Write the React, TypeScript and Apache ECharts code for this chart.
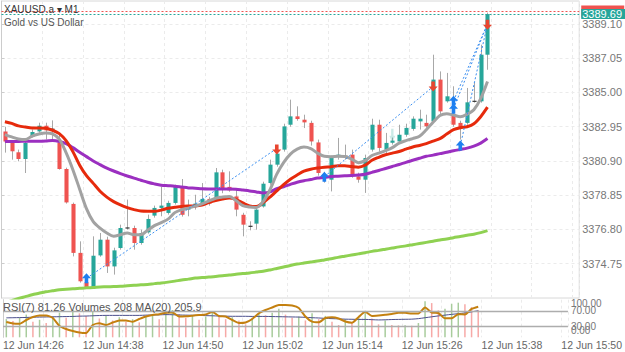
import React, { useEffect, useRef } from 'react';
import * as echarts from 'echarts';

// ---------- data ----------
const opens = [
  3382.67, 3381.98, 3381.42, 3381.02, 3382.37, 3382.67, 3383.01, 3382.80, 3381.99, 3380.42,
  3378.33, 3375.40, 3373.64, 3373.36, 3375.25, 3376.19, 3374.59, 3375.69, 3376.89, 3376.89,
  3375.99, 3376.63, 3377.63, 3378.09, 3377.79, 3378.39, 3379.35, 3377.99, 3378.23, 3378.35,
  3378.63, 3378.63, 3380.22, 3379.35, 3378.78, 3377.68, 3376.99, 3377.15, 3378.18, 3379.58,
  3380.68, 3381.58, 3383.07, 3383.57, 3383.37, 3383.18, 3382.01, 3380.10, 3379.78, 3381.18,
  3381.18, 3381.28, 3379.98, 3379.78, 3381.58, 3383.07, 3381.58, 3381.99, 3382.07, 3382.47,
  3382.82, 3383.27, 3383.18, 3383.27, 3385.77, 3384.47, 3383.67, 3383.18, 3383.18, 3384.47,
  3384.47, 3387.26,
];
const closes = [
  3382.07, 3381.48, 3381.02, 3381.98, 3382.64, 3383.01, 3382.73, 3382.78, 3380.42, 3378.42,
  3375.40, 3373.70, 3373.36, 3375.23, 3376.19, 3374.59, 3375.55, 3376.89, 3376.89, 3375.99,
  3376.59, 3377.43, 3378.09, 3378.23, 3378.39, 3379.35, 3377.68, 3378.23, 3378.35, 3378.63,
  3378.35, 3380.22, 3379.22, 3379.14, 3377.99, 3377.09, 3376.99, 3377.99, 3379.54, 3380.68,
  3381.34, 3382.97, 3383.57, 3383.41, 3383.21, 3382.07, 3380.18, 3379.95, 3381.08, 3381.28,
  3381.18, 3380.08, 3379.78, 3381.08, 3383.07, 3381.68, 3381.98, 3382.12, 3382.47, 3382.88,
  3383.43, 3383.43, 3382.97, 3385.77, 3383.87, 3384.77, 3383.07, 3382.88, 3384.41, 3384.47,
  3387.26, 3389.69,
];
const lows = [
  3381.40, 3380.98, 3380.88, 3380.18, 3382.30, 3382.59, 3382.18, 3382.18, 3380.38, 3378.35,
  3375.19, 3373.62, 3373.32, 3373.32, 3375.17, 3374.20, 3374.10, 3375.59, 3376.79, 3375.59,
  3375.89, 3376.55, 3377.51, 3377.59, 3377.69, 3378.29, 3377.57, 3377.59, 3377.99, 3378.29,
  3378.23, 3378.52, 3378.97, 3379.06, 3377.59, 3376.39, 3376.75, 3376.79, 3378.11, 3379.48,
  3380.56, 3381.46, 3382.95, 3383.31, 3382.87, 3381.82, 3380.02, 3379.60, 3379.08, 3380.98,
  3380.98, 3379.90, 3379.60, 3378.99, 3381.46, 3381.46, 3381.28, 3381.88, 3381.99, 3382.35,
  3382.71, 3382.78, 3382.89, 3383.19, 3383.67, 3384.39, 3382.95, 3382.18, 3383.07, 3384.39,
  3384.39, 3386.36,
];
const highs = [
  3382.95, 3382.12, 3381.58, 3382.18, 3382.78, 3383.19, 3383.19, 3383.33, 3382.48, 3380.50,
  3378.41, 3376.09, 3373.80, 3376.39, 3376.59, 3376.37, 3375.71, 3377.09, 3378.59, 3377.03,
  3376.79, 3377.69, 3378.23, 3379.36, 3378.52, 3379.48, 3379.82, 3378.59, 3378.88, 3379.58,
  3378.76, 3380.48, 3380.38, 3380.28, 3379.18, 3377.80, 3377.29, 3378.11, 3379.66, 3380.98,
  3381.46, 3383.13, 3384.57, 3384.17, 3383.67, 3383.31, 3382.18, 3380.25, 3381.22, 3382.28,
  3381.88, 3381.58, 3380.20, 3381.28, 3383.43, 3383.37, 3382.58, 3382.30, 3383.07, 3383.13,
  3383.57, 3383.97, 3383.67, 3387.26, 3386.26, 3386.17, 3385.37, 3383.31, 3385.27, 3385.59,
  3387.86, 3389.78,
];
// moving averages drawn on the price panel
const maGray = [
  3382.48, 3382.34, 3382.22, 3382.18, 3382.39, 3382.51, 3382.57, 3382.52, 3382.21, 3381.40,
  3380.38, 3379.21, 3378.05, 3377.27, 3376.88, 3376.59, 3376.40, 3376.49, 3376.59, 3376.49,
  3376.49, 3376.76, 3377.03, 3377.21, 3377.42, 3377.81, 3377.99, 3378.08, 3378.20, 3378.33,
  3378.50, 3378.67, 3378.74, 3378.78, 3378.53, 3378.23, 3378.14, 3378.12, 3378.47, 3379.18,
  3380.11, 3380.80, 3381.31, 3381.61, 3381.73, 3381.64, 3381.37, 3381.18, 3381.16, 3381.18,
  3381.17, 3381.01, 3380.80, 3380.92, 3381.23, 3381.37, 3381.52, 3381.70, 3381.97, 3382.12,
  3382.24, 3382.38, 3382.77, 3383.22, 3383.62, 3383.73, 3383.65, 3383.55, 3383.70, 3383.97,
  3384.63, 3385.65,
];
const maRed = [
  3383.25, 3383.15, 3383.00, 3382.93, 3382.88, 3382.88, 3382.86, 3382.74, 3382.54, 3382.12,
  3381.46, 3380.65, 3380.02, 3379.56, 3379.09, 3378.74, 3378.47, 3378.27, 3378.11, 3377.99,
  3377.90, 3377.89, 3377.89, 3377.96, 3378.07, 3378.13, 3378.18, 3378.20, 3378.21, 3378.27,
  3378.41, 3378.53, 3378.62, 3378.68, 3378.59, 3378.39, 3378.21, 3378.17, 3378.41, 3378.74,
  3379.11, 3379.48, 3379.81, 3380.06, 3380.29, 3380.41, 3380.48, 3380.53, 3380.56, 3380.62,
  3380.62, 3380.57, 3380.53, 3380.65, 3380.94, 3381.12, 3381.27, 3381.37, 3381.47, 3381.61,
  3381.74, 3381.83, 3381.94, 3382.09, 3382.24, 3382.51, 3382.77, 3382.89, 3382.95, 3383.13,
  3383.55, 3384.12,
];
const maPurple = [
  3382.06, 3382.07, 3382.07, 3382.08, 3382.08, 3382.08, 3382.09, 3382.12, 3382.07, 3381.94,
  3381.70, 3381.42, 3381.16, 3380.90, 3380.68, 3380.47, 3380.30, 3380.14, 3380.00, 3379.87,
  3379.75, 3379.63, 3379.53, 3379.45, 3379.42, 3379.39, 3379.34, 3379.29, 3379.27, 3379.24,
  3379.23, 3379.23, 3379.23, 3379.23, 3379.21, 3379.16, 3379.11, 3379.05, 3378.99, 3379.05,
  3379.24, 3379.36, 3379.50, 3379.63, 3379.72, 3379.79, 3379.88, 3379.91, 3379.97, 3379.99,
  3380.01, 3380.03, 3380.06, 3380.11, 3380.22, 3380.33, 3380.45, 3380.57, 3380.69, 3380.82,
  3380.94, 3381.06, 3381.18, 3381.25, 3381.34, 3381.42, 3381.51, 3381.59, 3381.67, 3381.79,
  3381.97, 3382.24,
];
const maGreen = [
  3372.42, 3372.54, 3372.67, 3372.78, 3372.89, 3372.98, 3373.07, 3373.13, 3373.19, 3373.23,
  3373.25, 3373.28, 3373.31, 3373.33, 3373.36, 3373.37, 3373.39, 3373.40, 3373.43, 3373.46,
  3373.49, 3373.51, 3373.56, 3373.60, 3373.65, 3373.71, 3373.78, 3373.83, 3373.89, 3373.92,
  3373.95, 3373.99, 3374.03, 3374.07, 3374.12, 3374.16, 3374.20, 3374.25, 3374.30, 3374.38,
  3374.47, 3374.56, 3374.65, 3374.73, 3374.79, 3374.85, 3374.91, 3374.98, 3375.05, 3375.13,
  3375.20, 3375.27, 3375.34, 3375.41, 3375.49, 3375.55, 3375.62, 3375.69, 3375.76, 3375.82,
  3375.89, 3375.96, 3376.03, 3376.10, 3376.17, 3376.23, 3376.31, 3376.38, 3376.46, 3376.52,
  3376.61, 3376.73,
];
// indicator panel
const rsi7 = [
  40.7, 36.7, 35.9, 46, 54, 58, 58, 51.3, 30, 22,
  16.7, 12.7, 11.3, 32.7, 37.2, 32.7, 39.3, 44.7, 44.7, 41.5,
  48.7, 55.3, 59.3, 61.5, 65.2, 66, 55.3, 55.9, 57.5, 59.3,
  60.7, 67.3, 56.7, 55.3, 46, 38, 39.3, 48.7, 63.9, 72.7,
  79.3, 86, 86, 84.7, 78, 55.3, 41.5, 39.9, 51.3, 53.2,
  50, 42, 38.8, 54, 68.1, 56.7, 58, 59.9, 62, 65.2,
  65.2, 63.3, 63.3, 79.3, 66, 64.7, 50.5, 50.5, 61.5, 60.7,
  75.3, 81.26,
];
const volumes = [
  140, 125, 150, 175, 120, 135, 110, 160, 190, 150,
  210, 185, 165, 200, 145, 165, 130, 155, 120, 140,
  115, 160, 175, 140, 190, 210, 180, 150, 170, 135,
  160, 195, 165, 140, 155, 130, 100, 150, 185, 170,
  190, 220, 175, 150, 160, 130, 185, 140, 165, 120,
  95, 140, 110, 150, 190, 145, 100, 130, 95, 92,
  93, 90, 110, 279, 264, 208, 221, 259, 267, 254,
  233, 208,
];
const volumeMA20 = [
  150, 151, 152, 153, 155, 156, 157, 158, 159, 160,
  161, 163, 164, 166, 168, 169, 169, 169, 169, 169,
  169, 171, 172, 173, 175, 174, 172, 171, 170, 169,
  167, 166, 164, 163, 162, 162, 162, 161, 161, 161,
  160, 159, 158, 157, 156, 154, 151, 149, 146, 144,
  142, 140, 139, 138, 138, 136, 134, 135, 137, 138,
  139, 140, 144, 151, 158, 165, 171, 177, 182, 188,
  196, 205.9,
];
// trade markers [bar index, price]
const buyMarks = [[12, 3373.88], [47, 3379.96], [66, 3384.51], [66, 3384.03], [67, 3381.82]];
const sellMarks = [[40, 3381.58], [63, 3385.35], [71, 3389.06]];
const pendingMarks = [[57, 3382.41]];
const tradeLines = [
  [[12, 3373.88], [40, 3381.65]],
  [[47, 3379.96], [63, 3385.35]],
  [[66, 3384.51], [71, 3389.10]],
  [[66, 3384.03], [71, 3389.10]],
  [[67, 3381.82], [71, 3389.10]],
];
const bidPrice = 3389.69;
const askPrice = 3389.85;
// axes
const slotCount = 85;
const timeTickLabels = [
  '12 Jun 14:26', '12 Jun 14:38', '12 Jun 14:50', '12 Jun 15:02',
  '12 Jun 15:14', '12 Jun 15:26', '12 Jun 15:38', '12 Jun 15:50',
];
const priceMin = 3372.7;
const priceMax = 3390.474;
const priceStep = 2.05;
const rsiTickValues = [0, 30, 70, 100];
const rsiTickLabels = ['0.00', '30.00', '70.00', '100.00'];
const titleText = 'XAUUSD.a \u25BE M1';
const subtitleText = 'Gold vs US Dollar';
const indicatorText = 'RSI(7) 81.26 Volumes 208 MA(20) 205.9';

const categories: string[] = [];
for (let i = 0; i < slotCount; i++) {
  const m = 26 + i;
  const hh = 14 + Math.floor(m / 60);
  const mm = m % 60;
  categories.push(`${hh}:${String(mm).padStart(2, '0')}`);
}

const UP = '#26a69a';
const DOWN = '#ef5350';
const FONT = '"Liberation Sans", Arial, Helvetica, sans-serif';

const upArrow = 'path://M5,0 L10,5 L7,5 L7,10 L3,10 L3,5 L0,5 Z';
const downArrow = 'path://M3,0 L7,0 L7,5 L10,5 L5,10 L0,5 L3,5 Z';

export default function App() {
  const ref = useRef<HTMLDivElement>(null);
  useEffect(() => {
    if (!ref.current) return;
    const chart = echarts.init(ref.current, undefined, { renderer: 'svg' });

    const candleData = opens.map((o, i) => [i, o, closes[i], lows[i], highs[i]]);
    const volData = volumes.map((v, i) => ({
      value: v,
      itemStyle: {
        color: i === 0 || v >= volumes[i - 1] ? 'rgba(110,170,90,0.6)' : 'rgba(239,83,80,0.5)',
      },
    }));

    const maLine = (data: number[], color: string) => ({
      type: 'line',
      xAxisIndex: 0,
      yAxisIndex: 0,
      data,
      symbol: 'none',
      smooth: 0.3,
      silent: true,
      z: 3,
      lineStyle: { color, width: 3 },
    });

    const tradeSeries = tradeLines.map((seg) => ({
      type: 'line',
      xAxisIndex: 0,
      yAxisIndex: 0,
      data: seg,
      symbol: 'none',
      silent: true,
      z: 4,
      lineStyle: { color: '#3a8ef0', width: 1, type: [2, 2] },
    }));

    const option: any = {
      animation: false,
      backgroundColor: '#ffffff',
      textStyle: { fontFamily: FONT },
      title: [
        { text: titleText, left: 4, top: 4, padding: 0, textStyle: { fontSize: 10, color: '#333', fontWeight: 'normal', fontFamily: FONT } },
        { text: subtitleText, left: 4, top: 17, padding: 0, textStyle: { fontSize: 10, color: '#555', fontWeight: 'normal', fontFamily: FONT } },
        { text: indicatorText, left: 3, top: 301, padding: 0, textStyle: { fontSize: 11, color: '#555', fontWeight: 'normal', fontFamily: FONT } },
      ],
      grid: [
        { left: 1.5, right: 45, top: 1, height: 297, show: true, borderColor: '#d8d8d8', borderWidth: 1 },
        { left: 1.5, right: 45, top: 299.7, height: 37.6 },
      ],
      xAxis: [
        { type: 'category', gridIndex: 0, position: 'bottom', data: categories, boundaryGap: true, show: false },
        {
          type: 'value', gridIndex: 0, position: 'top', min: 0, max: slotCount, interval: 6,
          axisLine: { show: false }, axisTick: { show: false }, axisLabel: { show: false },
          splitLine: { show: true, lineStyle: { color: '#ebebeb', type: [3, 3] } },
        },
        { type: 'category', gridIndex: 1, position: 'top', data: categories, boundaryGap: true, show: false },
        {
          type: 'value', gridIndex: 1, position: 'bottom', min: 0, max: slotCount, interval: 6,
          axisLine: { show: false }, axisTick: { show: false },
          splitLine: { show: true, lineStyle: { color: '#ebebeb', type: [3, 3] } },
          axisLabel: {
            show: true, align: 'left', margin: 2, color: '#666', fontSize: 10.5, fontFamily: FONT,
            showMinLabel: true, showMaxLabel: true,
            formatter: (v: number) => (v % 12 === 0 && timeTickLabels[v / 12] ? timeTickLabels[v / 12] : ''),
          },
        },
      ],
      yAxis: [
        {
          type: 'value', gridIndex: 0, position: 'right', min: priceMin, max: priceMax, interval: priceStep,
          axisLine: { show: true, lineStyle: { color: '#cccccc' } },
          axisTick: { show: true, length: 3, lineStyle: { color: '#cccccc' } },
          splitLine: { show: true, lineStyle: { color: '#ebebeb', type: [3, 3] } },
          axisLabel: {
            margin: 3, color: '#777', fontSize: 11, fontFamily: FONT,
            showMinLabel: false, showMaxLabel: false,
            formatter: (v: number) => v.toFixed(2),
          },
        },
        {
          type: 'value', gridIndex: 1, position: 'right', min: 0, max: 100, interval: 10,
          axisLine: { show: true, lineStyle: { color: '#cccccc' } },
          axisTick: { show: false },
          splitLine: { show: false },
          axisLabel: {
            margin: 3, color: '#777', fontSize: 10, fontFamily: FONT, lineHeight: 12,
            showMinLabel: true, showMaxLabel: true,
            formatter: (v: number) => {
              const k = rsiTickValues.indexOf(Math.round(v));
              if (k < 0 || Math.abs(v - rsiTickValues[k]) > 0.01) return '';
              if (rsiTickValues[k] === 100) return `{s| }\n${rsiTickLabels[k]}`;
              if (rsiTickValues[k] === 0) return `${rsiTickLabels[k]}\n{g| }`;
              return rsiTickLabels[k];
            },
            rich: {
              s: { fontSize: 1, lineHeight: 7 },
              g: { fontSize: 1, lineHeight: 13 },
            },
          },
        },
        { type: 'value', gridIndex: 1, min: 0, max: 290, show: false, splitLine: { show: false } },
      ],
      series: [
        {
          type: 'custom',
          xAxisIndex: 0,
          yAxisIndex: 0,
          data: candleData,
          encode: { x: 0, y: [1, 2, 3, 4] },
          clip: true,
          silent: true,
          z: 2,
          renderItem: (params: any, api: any) => {
            const i = api.value(0);
            const o = api.value(1);
            const c = api.value(2);
            const l = api.value(3);
            const h = api.value(4);
            const pO = api.coord([i, o]);
            const pC = api.coord([i, c]);
            const pL = api.coord([i, l]);
            const pH = api.coord([i, h]);
            const bw = Math.max(3, api.size([1, 0])[0] * 0.6);
            const x = Math.round(pO[0]) + 0.5;
            const top = Math.min(pO[1], pC[1]);
            const hgt = Math.abs(pO[1] - pC[1]);
            const children: any[] = [
              { type: 'line', shape: { x1: x, y1: pH[1], x2: x, y2: pL[1] }, style: { stroke: '#a8a8a8', lineWidth: 1 } },
            ];
            if (hgt < 0.8) {
              children.push({ type: 'line', shape: { x1: x - bw / 2, y1: pO[1], x2: x + bw / 2, y2: pO[1] }, style: { stroke: '#333', lineWidth: 1.2 } });
            } else {
              children.push({ type: 'rect', shape: { x: x - bw / 2, y: top, width: bw, height: hgt }, style: { fill: c > o ? UP : DOWN } });
            }
            return { type: 'group', children };
          },
        },
        maLine(maGreen, '#8fd152'),
        maLine(maPurple, '#9b2fc0'),
        maLine(maRed, '#e62a0c'),
        maLine(maGray, '#a2a2a2'),
        ...tradeSeries,
        {
          type: 'scatter', xAxisIndex: 0, yAxisIndex: 0, data: buyMarks, symbol: upArrow,
          symbolSize: [9, 10], silent: true, z: 5, itemStyle: { color: '#1e7ff0', opacity: 1 },
        },
        {
          type: 'scatter', xAxisIndex: 0, yAxisIndex: 0, data: sellMarks, symbol: downArrow,
          symbolSize: [9, 10], silent: true, z: 5, itemStyle: { color: '#e8452f', opacity: 1 },
        },
        {
          type: 'scatter', xAxisIndex: 0, yAxisIndex: 0, data: pendingMarks, symbol: downArrow,
          symbolSize: [6, 14], silent: true, z: 5, itemStyle: { color: 'rgba(38,166,154,0.3)' },
        },
        {
          type: 'line', xAxisIndex: 0, yAxisIndex: 0, data: [], symbol: 'none', silent: true, z: 6,
          markLine: {
            silent: true,
            symbol: ['none', 'none'],
            animation: false,
            data: [
              {
                yAxis: askPrice,
                lineStyle: { color: DOWN, type: [2, 2], width: 1 },
                label: {
                  show: true, position: 'end', distance: 2, formatter: '{a| }',
                  rich: { a: { width: 43, height: 12, backgroundColor: DOWN } },
                },
              },
              {
                yAxis: bidPrice,
                lineStyle: { color: UP, type: [2, 2], width: 1 },
                label: {
                  show: true, position: 'end', distance: 2, formatter: bidPrice.toFixed(2),
                  backgroundColor: UP, color: '#fff', fontSize: 11, fontFamily: FONT,
                  lineHeight: 10, padding: [0, 3, 0, 1],
                },
              },
            ],
          },
        },
        {
          type: 'bar', xAxisIndex: 2, yAxisIndex: 2, data: volData, barWidth: 1.5, silent: true, z: 2,
        },
        {
          type: 'line', xAxisIndex: 2, yAxisIndex: 2, data: volumeMA20, symbol: 'none', silent: true, z: 3,
          smooth: 0.3, lineStyle: { color: '#4b4f8c', width: 1 },
        },
        {
          type: 'line', xAxisIndex: 2, yAxisIndex: 1, data: rsi7, symbol: 'none', silent: true, z: 4,
          smooth: 0.2, lineStyle: { color: '#c4800f', width: 2 },
          markLine: {
            silent: true,
            symbol: ['none', 'none'],
            label: { show: false },
            lineStyle: { color: '#adadad', type: 'solid', width: 1.3 },
            data: [{ yAxis: 70 }, { yAxis: 30 }],
          },
        },
      ],
    };
    chart.setOption(option);
    return () => chart.dispose();
  }, []);
  return <div ref={ref} style={{ position: 'absolute', left: 0, top: 0, width: 625, height: 352 }} />;
}
